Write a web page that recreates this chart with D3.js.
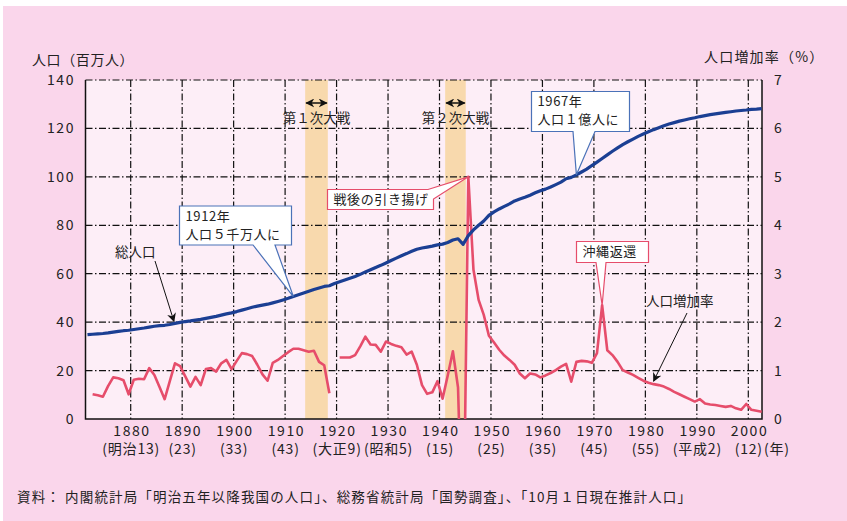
<!DOCTYPE html>
<html>
<head>
<meta charset="utf-8">
<script src="https://cdn.jsdelivr.net/npm/d3@7"></script>
<style>
    body { margin: 0; background: #fff; }
    svg { display: block; font-family: "Noto Sans CJK JP", sans-serif; }
</style>
</head>
<body>
<script>
// total population (millions), one value per year from 1872
const popFirstYear = 1872;
const population = [
    34.81, 34.99, 35.15, 35.32, 35.56, 35.87, 36.17, 36.46, 36.65, 36.97,
    37.26, 37.57, 37.96, 38.31, 38.54, 38.70, 39.03, 39.47, 39.90, 40.25,
    40.51, 40.86, 41.14, 41.56, 41.99, 42.40, 42.89, 43.40, 43.85, 44.36,
    44.96, 45.55, 46.14, 46.62, 47.04, 47.42, 47.96, 48.55, 49.18, 49.85,
    50.58, 51.31, 52.04, 52.75, 53.50, 54.13, 54.74, 55.03, 55.96, 56.67,
    57.39, 58.12, 58.88, 59.74, 60.74, 61.66, 62.60, 63.46, 64.45, 65.46,
    66.43, 67.43, 68.31, 69.25, 70.11, 70.63, 71.01, 71.38, 71.93, 72.22,
    72.88, 73.90, 74.43, 72.15, 75.75, 78.10, 80.00, 81.77, 84.11, 85.54,
    86.74, 87.83, 88.84, 90.08, 90.86, 91.56, 92.43, 93.42, 94.30, 94.94,
    95.83, 96.81, 97.83, 99.21, 99.79, 100.83, 102.00, 103.17, 104.67, 106.10,
    107.60, 109.10, 110.57, 111.94, 113.30, 114.50, 115.60, 116.70, 117.70, 118.60,
    119.50, 120.30, 121.10, 121.80, 122.40, 123.00, 123.50, 124.00, 124.40, 124.90,
    125.30, 125.70, 126.00, 126.30, 126.60, 126.90, 127.20, 127.40, 127.60, 127.90,
    128.00, 128.20
];

// growth rate (%), one value per year from 1873, null = no value (1920)
const rateFirstYear = 1873;
const growthRate = [
    0.51, 0.49, 0.46, 0.68, 0.86, 0.84, 0.80, 0.51, 0.81, 0.83,
    0.82, 1.05, 0.91, 0.66, 0.41, 0.78, 1.15, 1.09, 0.88, 0.67,
    0.87, 0.70, 1.03, 1.05, 0.98, 1.15, 1.22, 1.03, 1.20, 1.36,
    1.34, 1.30, 1.12, 0.92, 0.79, 1.16, 1.22, 1.30, 1.38, 1.45,
    1.45, 1.42, 1.39, 1.41, 1.18, 1.11, 0.53, null, 1.27, 1.27,
    1.27, 1.32, 1.50, 1.70, 1.54, 1.53, 1.39, 1.60, 1.55, 1.51,
    1.48, 1.33, 1.39, 1.12, 0.70, 0.52, 0.55, 0.78, 0.42, 0.90,
    1.40, 0.65, -3.10, 5.00, 3.08, 2.46, 2.15, 1.72, 1.58, 1.43,
    1.31, 1.22, 1.12, 0.94, 0.84, 0.94, 0.92, 0.86, 0.90, 0.95,
    1.01, 1.08, 1.14, 0.77, 1.18, 1.20, 1.19, 1.16, 1.36, 2.35,
    1.42, 1.32, 1.18, 1.01, 0.96, 0.91, 0.85, 0.79, 0.75, 0.72,
    0.70, 0.67, 0.62, 0.56, 0.51, 0.46, 0.41, 0.36, 0.41, 0.32,
    0.30, 0.29, 0.27, 0.25, 0.27, 0.22, 0.19, 0.31, 0.19, 0.17,
    0.15
];

const decadeTicks = [1880, 1890, 1900, 1910, 1920, 1930, 1940, 1950, 1960, 1970, 1980, 1990, 2000];
const eraLabels = ["(明治13)", "(23)", "(33)", "(43)", "(大正9)", "(昭和5)", "(15)", "(25)", "(35)", "(45)", "(55)", "(平成2)", "(12)"];
const popTicks = [0, 20, 40, 60, 80, 100, 120, 140];
const rateTicks = [0, 1, 2, 3, 4, 5, 6, 7];
const warNames = ["第１次大戦", "第２次大戦"];
const warFrom = [1914.3, 1941.5];
const warTo = [1918.7, 1945.5];

// layout
const width = 847, height = 521;
const plot = { left: 85.5, right: 762, top: 80, bottom: 419 };
const shift = 0.4; // data points sit a bit left of the year gridline

const popData = population.map((v, i) => ({ year: popFirstYear + i, value: v }));
const rateData = growthRate.map((v, i) => ({ year: rateFirstYear + i, value: v }));

const x = d3.scaleLinear().domain([1880, 2000]).range([130.7, 748.3]);
const yPop = d3.scaleLinear().domain([0, 140]).range([plot.bottom, plot.top]);
const yRate = d3.scaleLinear().domain([0, 7]).range([plot.bottom, plot.top]);

const blue = "#1b3f93", red = "#e64d6b", ink = "#222";

const svg = d3.select("body").append("svg")
    .attr("width", width)
    .attr("height", height);

const defs = svg.append("defs");
defs.append("clipPath").attr("id", "plot-clip")
    .append("rect")
    .attr("x", plot.left).attr("y", plot.top)
    .attr("width", plot.right - plot.left).attr("height", plot.bottom - plot.top);
defs.append("marker")
    .attr("id", "head")
    .attr("viewBox", "0 0 10 10")
    .attr("refX", 9).attr("refY", 5)
    .attr("markerWidth", 9).attr("markerHeight", 9)
    .attr("markerUnits", "userSpaceOnUse")
    .attr("orient", "auto-start-reverse")
    .append("path")
    .attr("d", "M0,0L10,5L0,10L3,5Z")
    .attr("fill", "#111");

// backgrounds
svg.append("rect").attr("x", 3).attr("y", 6).attr("width", width - 3).attr("height", height - 6)
    .attr("fill", "#fad6eb");
svg.append("rect")
    .attr("x", plot.left).attr("y", plot.top)
    .attr("width", plot.right - plot.left).attr("height", plot.bottom - plot.top)
    .attr("fill", "#fdeef7");

// war periods
svg.selectAll(".war")
    .data(warNames)
    .enter().append("rect")
    .attr("class", "war")
    .attr("x", (d, i) => x(warFrom[i] - shift))
    .attr("y", plot.top)
    .attr("width", (d, i) => x(warTo[i]) - x(warFrom[i]))
    .attr("height", plot.bottom - plot.top)
    .attr("fill", "#f8d9ad");

// grid
const dash = "7,2.5,1.5,2.5";
svg.selectAll(".hgrid")
    .data(popTicks.filter(d => d > 0))
    .enter().append("line")
    .attr("class", "hgrid")
    .attr("x1", plot.left).attr("x2", plot.right)
    .attr("y1", d => yPop(d)).attr("y2", d => yPop(d))
    .attr("stroke", "#111").attr("stroke-width", 1.2)
    .attr("stroke-dasharray", dash);
svg.selectAll(".vgrid")
    .data(decadeTicks)
    .enter().append("line")
    .attr("class", "vgrid")
    .attr("x1", d => x(d)).attr("x2", d => x(d))
    .attr("y1", plot.top).attr("y2", plot.bottom)
    .attr("stroke", "#111").attr("stroke-width", 1.2)
    .attr("stroke-dasharray", dash);
svg.append("path")
    .attr("d", `M${plot.left},${plot.top}V${plot.bottom}H${plot.right}V${plot.top}`)
    .attr("fill", "none").attr("stroke", "#111").attr("stroke-width", 1.5);

// axes (labels only)
const axisLeft = svg.append("g")
    .attr("transform", `translate(${plot.left},0)`)
    .call(d3.axisLeft(yPop).tickValues(popTicks).tickSize(0).tickPadding(12));
const axisRight = svg.append("g")
    .attr("transform", `translate(${plot.right},0)`)
    .call(d3.axisRight(yRate).tickValues(rateTicks).tickFormat(d3.format("d")).tickSize(0).tickPadding(12));
const axisBottom = svg.append("g")
    .attr("transform", `translate(0,${plot.bottom})`)
    .call(d3.axisBottom(x).tickValues(decadeTicks).tickFormat(d3.format("d")).tickSize(0).tickPadding(7));
[axisLeft, axisRight, axisBottom].forEach(g => {
    g.select(".domain").remove();
    g.selectAll("text")
        .attr("font-family", '"Noto Sans CJK JP", sans-serif')
        .attr("font-size", 14)
        .attr("letter-spacing", 1.6)
        .attr("fill", ink);
});
// keep right-anchored labels tight to their anchor despite letter spacing
axisLeft.selectAll("text").attr("dx", 1.6);
axisBottom.selectAll("text").attr("dx", 0.8);

svg.selectAll(".era")
    .data(eraLabels)
    .enter().append("text")
    .attr("class", "era")
    .attr("x", (d, i) => x(decadeTicks[i]) + 0.5)
    .attr("y", 454)
    .attr("text-anchor", "middle")
    .attr("font-size", 14)
    .attr("letter-spacing", 0.8)
    .attr("fill", ink)
    .text(d => d);
svg.append("text").attr("x", 764).attr("y", 454)
    .attr("font-size", 14).attr("letter-spacing", 0.8).attr("fill", ink).text("(年)");

svg.append("text").attr("x", 32).attr("y", 65)
    .attr("font-size", 14).attr("letter-spacing", 0.6).attr("fill", ink).text("人口（百万人）");
svg.append("text").attr("x", 704).attr("y", 62)
    .attr("font-size", 14).attr("letter-spacing", 1.2).attr("fill", ink).text("人口増加率（%）");

// lines
const popLine = d3.line()
    .x(d => x(d.year - shift))
    .y(d => yPop(d.value));
const rateLine = d3.line()
    .defined(d => d.value !== null)
    .x(d => x(d.year - shift))
    .y(d => yRate(d.value));

svg.append("path")
    .datum(rateData)
    .attr("clip-path", "url(#plot-clip)")
    .attr("d", rateLine)
    .attr("fill", "none")
    .attr("stroke", red)
    .attr("stroke-width", 2.6)
    .attr("stroke-linejoin", "round");
svg.append("path")
    .datum(popData)
    .attr("d", popLine)
    .attr("fill", "none")
    .attr("stroke", blue)
    .attr("stroke-width", 3.2)
    .attr("stroke-linejoin", "round");

// war arrows + labels
warNames.forEach((name, i) => {
    const x0 = x(warFrom[i] - shift), x1 = x(warTo[i] - shift);
    svg.append("line")
        .attr("x1", x0 + 1).attr("x2", x1 - 1)
        .attr("y1", 103).attr("y2", 103)
        .attr("stroke", "#111").attr("stroke-width", 1.5)
        .attr("marker-start", "url(#head)")
        .attr("marker-end", "url(#head)");
    svg.append("text")
        .attr("x", (x0 + x1) / 2).attr("y", 123)
        .attr("text-anchor", "middle")
        .attr("font-size", 13.5).attr("fill", ink)
        .text(name);
});

// callouts
function valueAt(data, year) {
    return data.find(d => d.year === year);
}

function callout(box, wedge, tip, color, lines) {
    const [x0, y0, x1, y1] = box;
    let d;
    if (wedge.side === "bottom") {
        d = `M${x0},${y0}H${x1}V${y1}H${wedge.b}L${tip[0]},${tip[1]}L${wedge.a},${y1}H${x0}Z`;
    } else {
        d = `M${x0},${y0}H${wedge.a}L${tip[0]},${tip[1]}L${x1},${wedge.b}V${y1}H${x0}Z`;
    }
    svg.append("path").attr("d", d)
        .attr("fill", "#fff").attr("stroke", color).attr("stroke-width", 1.2);
    lines.forEach((t, i) => {
        svg.append("text")
            .attr("x", x0 + 6).attr("y", y0 + 14.5 + i * 18)
            .attr("font-size", 13).attr("letter-spacing", 0.6).attr("fill", ink)
            .text(t);
    });
}

const p1912 = valueAt(popData, 1912);
callout([179.5, 206, 291.5, 245], { side: "bottom", a: 253, b: 275 },
    [x(p1912.year - shift), yPop(p1912.value)], "#4b72b8", ["1912年", "人口５千万人に"]);

const p1967 = valueAt(popData, 1967);
callout([531.5, 91.5, 629.5, 131.5], { side: "bottom", a: 573, b: 595 },
    [x(p1967.year - shift), yPop(p1967.value)], "#4b72b8", ["1967年", "人口１億人に"]);

const r1946 = valueAt(rateData, 1946);
callout([327.5, 189.5, 433.5, 209.5], { side: "right", a: 428, b: 199 },
    [x(r1946.year - shift), yRate(r1946.value)], red, ["戦後の引き揚げ"]);

const r1972 = valueAt(rateData, 1972);
callout([576.5, 241.5, 648.5, 262.5], { side: "bottom", a: 596, b: 606 },
    [x(r1972.year - shift), yRate(r1972.value)], red, ["沖縄返還"]);

// series labels with arrows
const p1889 = valueAt(popData, 1889);
svg.append("text").attr("x", 115).attr("y", 257)
    .attr("font-size", 13.5).attr("fill", ink).text("総人口");
svg.append("line")
    .attr("x1", 155).attr("y1", 261)
    .attr("x2", x(p1889.year - shift) - 1).attr("y2", yPop(p1889.value) - 2)
    .attr("stroke", "#111").attr("stroke-width", 1)
    .attr("marker-end", "url(#head)");

const r1982 = valueAt(rateData, 1982);
svg.append("text").attr("x", 646).attr("y", 306)
    .attr("font-size", 13.5).attr("fill", ink).text("人口増加率");
svg.append("line")
    .attr("x1", 687).attr("y1", 313)
    .attr("x2", x(r1982.year - shift)).attr("y2", yRate(r1982.value) - 3)
    .attr("stroke", "#111").attr("stroke-width", 1)
    .attr("marker-end", "url(#head)");

// source
svg.append("text").attr("x", 17).attr("y", 502)
    .attr("font-size", 13.5).attr("letter-spacing", 1.15).attr("fill", ink)
    .text("資料： 内閣統計局「明治五年以降我国の人口」、総務省統計局「国勢調査」、「10月１日現在推計人口」");
</script>
</body>
</html>
